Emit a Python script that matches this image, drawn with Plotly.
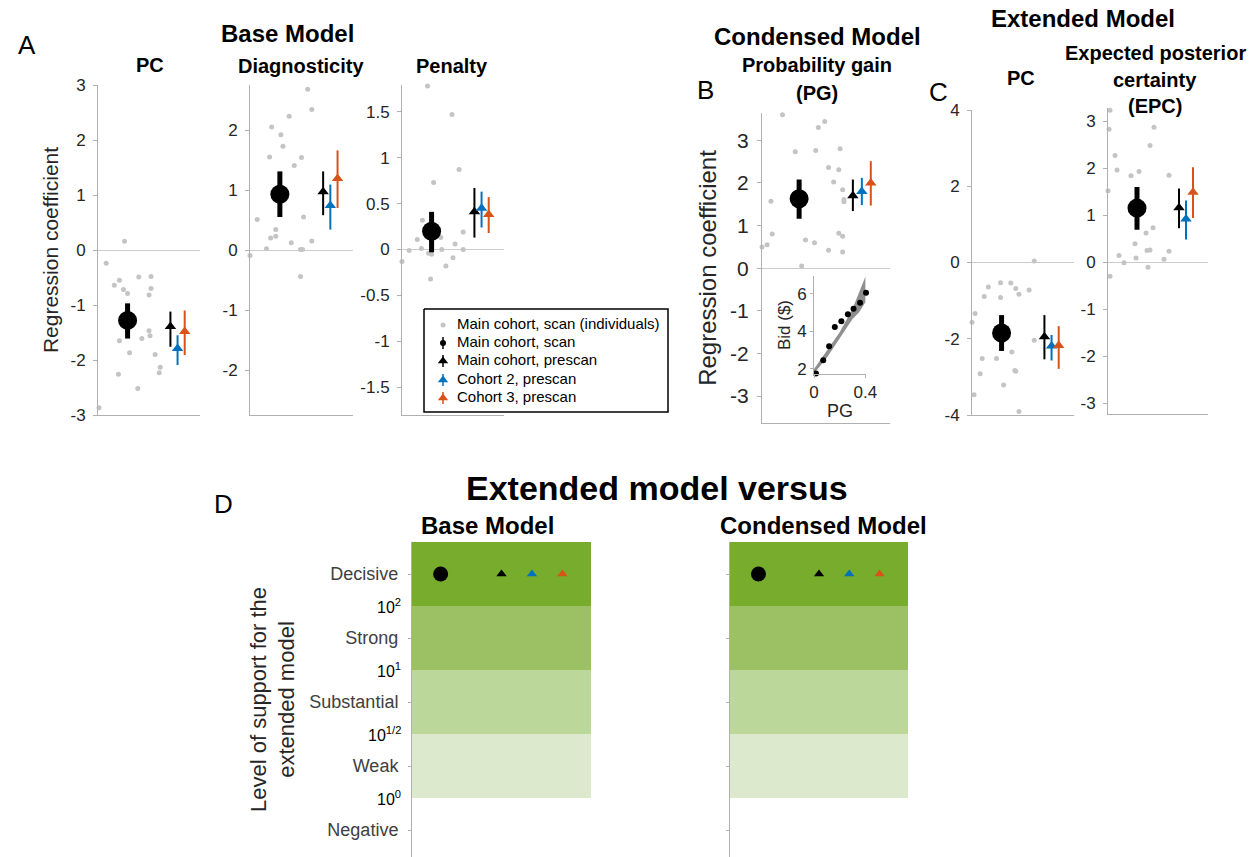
import plotly.graph_objects as go

W, H = 1259, 857
FONT = "Liberation Sans, Arial, Helvetica, sans-serif"

# ---------------- data ----------------
legend_labels = ["Main cohort, scan (individuals)", "Main cohort, scan",
                 "Main cohort, prescan", "Cohort 2, prescan", "Cohort 3, prescan"]
# horizontal slot of each group summary inside a panel: scan, prescan, cohort 2, cohort 3
summary_x = [0.29, 0.71, 0.78, 0.85]
summary_colors = ["black", "black", "#0072BD", "#D95319"]

# A: Base model - PC
base_pc_ind_x = [0.01, 0.08, 0.26, 0.16, 0.21, 0.25, 0.29, 0.40, 0.52, 0.52, 0.50,
                 0.21, 0.31, 0.20, 0.39, 0.43, 0.50, 0.51, 0.56, 0.61, 0.60]
base_pc_ind_y = [-2.87, -0.24, 0.16, -0.64, -0.55, -0.72, -0.79, -0.49, -0.48, -0.70, -0.82,
                 -1.65, -1.87, -2.26, -2.52, -1.61, -1.47, -1.56, -1.90, -2.13, -2.23]
base_pc_mean = [-1.28, -1.39, -1.79, -1.48]
base_pc_lo = [-1.61, -1.76, -2.09, -1.91]
base_pc_hi = [-0.97, -1.12, -1.55, -1.10]

# A: Base model - Diagnosticity
diag_ind_x = [0.00, 0.07, 0.16, 0.20, 0.25, 0.25, 0.19, 0.21, 0.30, 0.32, 0.38,
              0.40, 0.43, 0.50, 0.52, 0.49, 0.51, 0.49, 0.56, 0.60, 0.60]
diag_ind_y = [-0.09, 0.51, 0.02, 0.20, 0.23, 0.34, 1.55, 2.05, 1.92, 1.73, 2.23,
              0.12, 1.41, 1.54, 0.55, 0.01, 0.01, -0.44, 2.68, 2.34, 0.15]
diag_mean = [0.93, 0.97, 0.74, 1.19]
diag_lo = [0.55, 0.58, 0.34, 0.70]
diag_hi = [1.31, 1.31, 1.09, 1.66]

# A: Base model - Penalty
pen_ind_x = [0.00, 0.07, 0.15, 0.19, 0.20, 0.25, 0.28, 0.26, 0.29, 0.31,
             0.38, 0.39, 0.43, 0.49, 0.50, 0.52, 0.56, 0.60, 0.60, 0.49]
pen_ind_y = [-0.13, -0.01, 0.11, 0.01, 0.32, 1.78, -0.32, -0.04, -0.05, 0.73,
             0.13, 0.00, -0.18, 1.47, -0.09, 0.06, 0.87, 0.19, 0.00, -0.69]
pen_mean = [0.20, 0.41, 0.45, 0.38]
pen_lo = [-0.03, 0.13, 0.24, 0.18]
pen_hi = [0.41, 0.67, 0.63, 0.57]

# B: Condensed model - Probability gain
pg_ind_x = [0.00, 0.04, 0.07, 0.08, 0.16, 0.26, 0.31, 0.34, 0.41, 0.42, 0.44, 0.49,
            0.52, 0.52, 0.56, 0.60, 0.60, 0.61, 0.63, 0.63, 0.64, 0.64, 0.63]
pg_ind_y = [0.50, 0.55, 1.57, 0.80, 3.60, 2.73, 0.05, 0.66, 0.60, 2.76, 3.30, 3.44,
            2.36, 0.42, 2.02, 2.31, 0.82, 2.80, 0.75, 1.84, 1.61, 1.56, 0.38]
pg_mean = [1.63, 1.70, 1.80, 2.00]
pg_lo = [1.16, 1.34, 1.48, 1.47]
pg_hi = [2.08, 2.08, 2.12, 2.51]

# B inset: bid vs PG
inset_pg = [0.015, 0.072, 0.118, 0.162, 0.213, 0.264, 0.308, 0.359, 0.405]
inset_bid = [1.75, 2.46, 3.20, 4.23, 4.53, 4.90, 5.20, 5.52, 6.05]
band_pg = [0.0, 0.1, 0.2, 0.3, 0.35, 0.4]
band_lo = [1.75, 2.6, 3.65, 4.65, 5.0, 5.55]
band_hi = [2.0, 3.0, 3.95, 5.2, 6.0, 6.9]

# C: Extended model - PC
ext_pc_ind_x = [0.61, 0.16, 0.12, 0.28, 0.28, 0.38, 0.43, 0.46, 0.56, 0.03, 0.00,
                0.08, 0.02, 0.10, 0.24, 0.39, 0.42, 0.43, 0.31, 0.46, 0.61]
ext_pc_ind_y = [0.04, -0.64, -0.89, -0.53, -0.92, -0.54, -0.68, -0.83, -0.72, -1.34, -1.57,
                -2.92, -3.47, -2.52, -2.52, -2.35, -2.83, -2.85, -3.21, -3.91, -2.04]
ext_pc_mean = [-1.85, -1.95, -2.19, -2.18]
ext_pc_lo = [-2.32, -2.54, -2.57, -2.79]
ext_pc_hi = [-1.38, -1.38, -1.90, -1.67]

# C: Extended model - Expected posterior certainty
epc_ind_x = [0.02, 0.01, 0.07, 0.09, 0.00, 0.02, 0.11, 0.16, 0.23, 0.31, 0.27,
             0.28, 0.38, 0.45, 0.39, 0.42, 0.40, 0.42, 0.46, 0.61, 0.61, 0.56]
epc_ind_y = [3.23, 2.83, 2.27, 1.96, 1.52, -0.30, 0.14, -0.01, 1.84, 1.93, 0.39,
             0.09, 0.62, 0.73, 0.25, 0.26, -0.11, 2.48, 2.87, 1.85, 0.23, 0.06]
epc_mean = [1.15, 1.16, 0.92, 1.49]
epc_lo = [0.69, 0.72, 0.48, 0.94]
epc_hi = [1.60, 1.57, 1.31, 2.02]

# D: Bayes-factor support levels
support_levels = ["Negative", "Weak", "Substantial", "Strong", "Decisive"]
bf_boundaries = ["10<sup>0</sup>", "10<sup>1/2</sup>", "10<sup>1</sup>", "10<sup>2</sup>"]
band_colors = ["#dde9cc", "#bcd79a", "#9bc164", "#78ac2c"]
vs_base_level = ["Decisive", "Decisive", "Decisive", "Decisive"]
vs_condensed_level = ["Decisive", "Decisive", "Decisive", "Decisive"]
d_x = [0.16, 0.50, 0.67, 0.84]

# ---------------- helpers ----------------
AX = "#b0b0b0"
TICK = "#262626"


def fx(p):
    return p / W


def fy(p):
    return 1 - p / H


def sfx(n):
    return "" if n == 1 else str(n)


def lab(v):
    return f"{v:g}"


fig = go.Figure()
layout = dict(template="none", width=W, height=H, margin=dict(l=0, r=0, t=0, b=0, pad=0),
              paper_bgcolor="white", plot_bgcolor="rgba(0,0,0,0)",
              font=dict(family=FONT, color=TICK), showlegend=False)

coef_panels = [
    dict(n=1, ind_x=base_pc_ind_x, ind_y=base_pc_ind_y, m=base_pc_mean, lo=base_pc_lo, hi=base_pc_hi,
         yr=[-3, 3], tv=[-3, -2, -1, 0, 1, 2, 3], px=(98, 200), py=(85, 415), fs=17,
         ytitle="Regression coefficient", tfs=21),
    dict(n=2, ind_x=diag_ind_x, ind_y=diag_ind_y, m=diag_mean, lo=diag_lo, hi=diag_hi,
         yr=[-2.75, 2.75], tv=[-2, -1, 0, 1, 2], px=(250, 353), py=(85, 415), fs=17),
    dict(n=3, ind_x=pen_ind_x, ind_y=pen_ind_y, m=pen_mean, lo=pen_lo, hi=pen_hi,
         yr=[-1.8, 1.79], tv=[-1.5, -1, -0.5, 0, 0.5, 1, 1.5], px=(402, 504), py=(85, 415), fs=17),
    dict(n=4, ind_x=pg_ind_x, ind_y=pg_ind_y, m=pg_mean, lo=pg_lo, hi=pg_hi,
         yr=[-3.63, 3.64], tv=[-3, -2, -1, 0, 1, 2, 3], px=(762, 890), py=(113, 423), fs=21,
         ytitle="Regression coefficient", tfs=24),
    dict(n=6, ind_x=ext_pc_ind_x, ind_y=ext_pc_ind_y, m=ext_pc_mean, lo=ext_pc_lo, hi=ext_pc_hi,
         yr=[-4, 4], tv=[-4, -2, 0, 2, 4], px=(972, 1074), py=(110, 415), fs=17),
    dict(n=7, ind_x=epc_ind_x, ind_y=epc_ind_y, m=epc_mean, lo=epc_lo, hi=epc_hi,
         yr=[-3.23, 3.28], tv=[-3, -2, -1, 0, 1, 2, 3], px=(1108, 1208), py=(108, 414), fs=17),
]

for p in coef_panels:
    n = p["n"]
    xa, ya = "x" + sfx(n), "y" + sfx(n)
    fig.add_trace(go.Scatter(x=p["ind_x"], y=p["ind_y"], xaxis=xa, yaxis=ya, mode="markers",
                             marker=dict(color="#c4c4c4", size=5), showlegend=False,
                             cliponaxis=False, hoverinfo="skip", name=legend_labels[0]))
    for i in range(4):
        big = i == 0
        fig.add_trace(go.Scatter(
            x=[summary_x[i]], y=[p["m"][i]], xaxis=xa, yaxis=ya, mode="markers",
            marker=dict(color=summary_colors[i], size=19 if big else 10,
                        symbol="circle" if big else "triangle-up", line=dict(width=0)),
            error_y=dict(type="data", symmetric=False,
                         array=[p["hi"][i] - p["m"][i]], arrayminus=[p["m"][i] - p["lo"][i]],
                         thickness=5 if big else 2, width=0, color=summary_colors[i]),
            showlegend=False, cliponaxis=False, name=legend_labels[i + 1]))
    layout["xaxis" + sfx(n)] = dict(domain=[fx(p["px"][0]), fx(p["px"][1])], anchor=ya, range=[0, 1],
                                    showline=True, linecolor=AX, linewidth=1, showticklabels=False,
                                    ticks="", showgrid=False, zeroline=False, automargin=False)
    ydict = dict(domain=[fy(p["py"][1]), fy(p["py"][0])], anchor=xa, range=p["yr"],
                 tickvals=p["tv"], ticktext=[lab(v) for v in p["tv"]], tickmode="array",
                 showline=True, linecolor=AX, linewidth=1, ticks="outside", ticklen=4,
                 tickcolor=AX, tickfont=dict(size=p["fs"], color=TICK), showgrid=False,
                 zeroline=True, zerolinecolor="#cccccc", zerolinewidth=1, ticklabelstandoff=4,
                 automargin=False)
    if "ytitle" in p:
        ydict["title"] = dict(text=p["ytitle"], font=dict(size=p["tfs"], color=TICK), standoff=6)
    layout["yaxis" + sfx(n)] = ydict

# B inset
fig.add_trace(go.Scatter(x=band_pg + band_pg[::-1], y=band_hi + band_lo[::-1], xaxis="x5", yaxis="y5",
                         mode="lines", fill="toself", fillcolor="#8f8f8f", line=dict(width=0),
                         showlegend=False, hoverinfo="skip"))
fig.add_trace(go.Scatter(x=inset_pg, y=inset_bid, xaxis="x5", yaxis="y5", mode="markers",
                         marker=dict(color="black", size=6), showlegend=False, cliponaxis=False))
layout["xaxis5"] = dict(domain=[fx(814), fx(866)], anchor="y5", range=[0, 0.405],
                        tickvals=[0, 0.4], ticktext=["0", "0.4"], showline=True, linecolor=AX,
                        ticks="outside", ticklen=3, tickcolor=AX, tickfont=dict(size=17, color=TICK),
                        showgrid=False, zeroline=False, automargin=False,
                        title=dict(text="PG", font=dict(size=18, color=TICK), standoff=2))
layout["yaxis5"] = dict(domain=[fy(374), fy(276)], anchor="x5", range=[1.73, 6.94],
                        tickvals=[2, 4, 6], ticktext=["2", "4", "6"], showline=True, linecolor=AX,
                        ticks="outside", ticklen=3, tickcolor=AX, tickfont=dict(size=17, color=TICK),
                        showgrid=False, zeroline=False, automargin=False,
                        title=dict(text="Bid ($)", font=dict(size=17, color=TICK), standoff=2))

# D panels
shapes = []
annotations = []
for n, levels, px, show_labels in [(8, vs_base_level, (412, 591), True),
                                   (9, vs_condensed_level, (730, 908), False)]:
    xa, ya = "x" + str(n), "y" + str(n)
    for k, col in enumerate(band_colors):
        shapes.append(dict(type="rect", xref=xa, yref=ya, x0=0, x1=1, y0=k + 1, y1=k + 2,
                           fillcolor=col, line=dict(width=0), layer="below"))
    yv = [support_levels.index(l) + 0.5 for l in levels]
    for i in range(4):
        fig.add_trace(go.Scatter(x=[d_x[i]], y=[yv[i]], xaxis=xa, yaxis=ya, mode="markers",
                                 marker=dict(color=summary_colors[i], size=15 if i == 0 else 9,
                                             symbol="circle" if i == 0 else "triangle-up"),
                                 showlegend=False))
    layout["xaxis" + str(n)] = dict(domain=[fx(px[0]), fx(px[1])], anchor=ya, range=[0, 1],
                                    visible=False, automargin=False)
    ydict = dict(domain=[0, fy(542)], anchor=xa, range=[0.08, 5],
                 tickvals=[k + 0.5 for k in range(5)], ticktext=support_levels,
                 showticklabels=show_labels, showline=True, linecolor=AX, linewidth=1,
                 ticks="outside", ticklen=3, tickcolor=AX, tickfont=dict(size=18, color="#404040"),
                 showgrid=False, zeroline=False, ticklabelstandoff=6, automargin=False)
    if show_labels:
        ydict["title"] = dict(text="Level of support for the<br>extended model",
                              font=dict(size=22, color=TICK), standoff=8)
        for k, t in enumerate(bf_boundaries):
            annotations.append(dict(text=t, xref=xa + " domain", yref=ya, x=0, y=k + 1,
                                    xanchor="right", yanchor="middle", xshift=-9, showarrow=False,
                                    font=dict(size=16, color="black")))
    layout["yaxis" + str(n)] = ydict

# legend box (own overlay axes, pixel units from the box's top-left corner)
LEG_W, LEG_H = 244, 103
leg_y = [16, 34, 52, 71, 89]
leg_icon_x = 19
leg_markers = [("circle", 5, "#c4c4c4", 0), ("circle", 6, "black", 6),
               ("triangle-up", 9, "black", 6), ("triangle-up", 9, "#0072BD", 6),
               ("triangle-up", 9, "#D95319", 6)]
fig.add_trace(go.Scatter(x=[0, LEG_W, LEG_W, 0, 0], y=[0, 0, LEG_H, LEG_H, 0], xaxis="x10", yaxis="y10",
                         mode="lines", fill="toself", fillcolor="white",
                         line=dict(color="black", width=1.5), showlegend=False, hoverinfo="skip"))
for (sym, sz, col, half), yy in zip(leg_markers, leg_y):
    fig.add_trace(go.Scatter(x=[leg_icon_x], y=[yy], xaxis="x10", yaxis="y10", mode="markers",
                             marker=dict(symbol=sym, size=sz, color=col),
                             error_y=dict(type="constant", value=half, width=0, thickness=1.5, color=col,
                                          visible=half > 0),
                             showlegend=False, hoverinfo="skip"))
fig.add_trace(go.Scatter(x=[33] * 5, y=leg_y, xaxis="x10", yaxis="y10", mode="text",
                         text=legend_labels, textposition="middle right",
                         textfont=dict(size=15, color="black", family=FONT),
                         showlegend=False, hoverinfo="skip", cliponaxis=False))
layout["xaxis10"] = dict(domain=[fx(422), fx(670)], anchor="y10", range=[-2, LEG_W + 2],
                         visible=False, automargin=False)
layout["yaxis10"] = dict(domain=[fy(414), fy(307)], anchor="x10", range=[LEG_H + 2, -2],
                         visible=False, automargin=False)


def add_text(text, x, y, size, bold=False, color="black"):
    annotations.append(dict(text=f"<b>{text}</b>" if bold else text, xref="paper", yref="paper",
                            x=fx(x), y=fy(y), xanchor="center", yanchor="middle", showarrow=False,
                            font=dict(size=size, color=color, family=FONT)))


add_text("A", 27, 45, 26)
add_text("Base Model", 287, 33, 24, bold=True)
add_text("PC", 150, 65, 20, bold=True)
add_text("Diagnosticity", 301, 66, 20, bold=True)
add_text("Penalty", 452, 66, 20, bold=True)
add_text("Condensed Model", 817, 36, 24, bold=True)
add_text("Probability gain", 817, 65, 20, bold=True)
add_text("(PG)", 817, 93, 20, bold=True)
add_text("B", 705, 90, 26)
add_text("Extended Model", 1083, 18, 24, bold=True)
add_text("C", 938, 92, 26)
add_text("PC", 1021, 78, 20, bold=True)
add_text("Expected posterior", 1155, 53, 20, bold=True)
add_text("certainty", 1155, 80, 20, bold=True)
add_text("(EPC)", 1155, 106, 20, bold=True)
add_text("D", 223, 504, 26)
add_text("Extended model versus", 657, 488, 34, bold=True)
add_text("Base Model", 487, 525, 24, bold=True)
add_text("Condensed Model", 823, 525, 24, bold=True)

layout["shapes"] = shapes
layout["annotations"] = annotations
fig.update_layout(**layout)

fig.write_html("out.html", config={"displayModeBar": False},
               post_script="document.body.style.margin='0';document.body.style.overflow='hidden';")
